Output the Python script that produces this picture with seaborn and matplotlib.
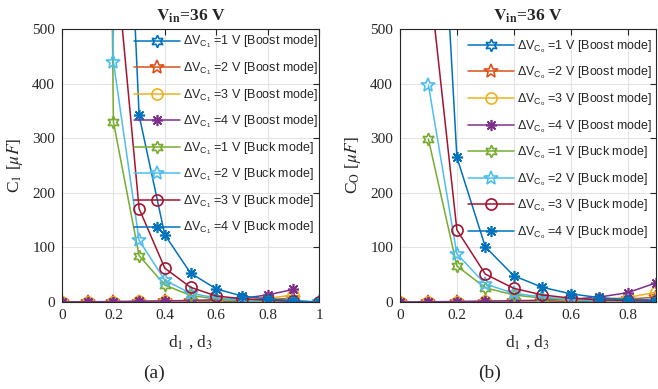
import numpy as np
import pandas as pd
import seaborn as sns
import matplotlib
matplotlib.use("Agg")
import matplotlib.pyplot as plt
from matplotlib.font_manager import FontProperties
from matplotlib.markers import MarkerStyle

# ---- data -------------------------------------------------------------
nan = np.nan
duty_a = [0.0, 0.1, 0.2, 0.3, 0.4, 0.5, 0.6, 0.7, 0.8, 0.9, 1.0]
duty_b = [0.0, 0.1, 0.2, 0.3, 0.4, 0.5, 0.6, 0.7, 0.8, 0.9]

# C1 [uF] versus duty, Vin = 36 V
c1_boost_1 = [0, 0.1, 0.2, 0.4, 0.6, 0.9, 1.3, 1.8, 2.5, 3.5, nan]
c1_boost_2 = [0, 0.2, 0.4, 0.7, 1.1, 1.6, 2.3, 3.2, 4.5, 7.0, nan]
c1_boost_3 = [0, 0.3, 0.6, 1.0, 1.6, 2.3, 3.2, 4.5, 6.5, 13.0, nan]
c1_boost_4 = [0, 0.4, 0.8, 1.3, 2.0, 2.9, 4.0, 6.5, 13.0, 23.0, nan]
c1_buck_1 = [nan, 4600, 330, 85, 31, 12, 5.5, 3.0, 1.8, 0.8, 0]
c1_buck_2 = [nan, 6000, 440, 113, 40, 16, 7.5, 4.0, 2.3, 1.0, 0]
c1_buck_3 = [nan, 2800, 677, 171, 62, 27, 11, 6.0, 3.2, 1.4, 0]
c1_buck_4 = [nan, 5500, 1395, 342, 123, 53, 24, 11, 5.5, 2.2, 0]

# Co [uF] versus duty, Vin = 36 V
co_boost_1 = [0, 0.1, 0.3, 0.5, 0.8, 1.1, 1.5, 2.0, 2.8, 4.5]
co_boost_2 = [0, 0.2, 0.5, 0.8, 1.2, 1.7, 2.4, 3.4, 5.0, 9.0]
co_boost_3 = [0, 0.3, 0.7, 1.1, 1.7, 2.5, 3.5, 5.0, 8.0, 18.0]
co_boost_4 = [0, 0.4, 0.9, 1.5, 2.3, 3.3, 5.0, 9.0, 17.0, 35.0]
co_buck_1 = [nan, 298, 66, 26, 13, 7, 4, 2.5, 1.5, 0.8]
co_buck_2 = [nan, 397, 88, 33, 16, 9, 5, 3.0, 1.8, 1.0]
co_buck_3 = [nan, 609, 132, 51, 25, 13, 7, 4.0, 2.5, 1.5]
co_buck_4 = [nan, 1205, 265, 101, 48, 27, 15, 8.0, 4.5, 2.5]

delta_v = [1, 2, 3, 4]
modes = ["Boost mode", "Buck mode"]
x_ticks = [0, 0.2, 0.4, 0.6, 0.8, 1.0]
y_ticks = [0, 100, 200, 300, 400, 500]

# ---- styling ----------------------------------------------------------
sns.set_theme(style="white")
plt.rcParams["font.family"] = ["Liberation Serif", "DejaVu Serif"]
plt.rcParams["mathtext.fontset"] = "custom"
plt.rcParams["mathtext.rm"] = "Liberation Sans"
plt.rcParams["mathtext.it"] = "Liberation Sans:italic"
plt.rcParams["mathtext.bf"] = "Liberation Sans:bold"

colors = ["#0072BD", "#D95319", "#EDB120", "#7E2F8E",
          "#77AC30", "#4DBEEE", "#A2142F", "#0072BD"]
hexagram = MarkerStyle((6, 1, 0))
asterisk = MarkerStyle((8, 2, 0))
markers = [hexagram, "*", "o", asterisk] * 2
msizes = [9, 10, 8, 8] * 2

fig = plt.figure(figsize=(6.58, 3.89), dpi=100)
ax_a = fig.add_axes([62 / 658, 1 - 302 / 389, 257 / 658, 273 / 389])
ax_b = fig.add_axes([400 / 658, 1 - 302 / 389, 256 / 658, 273 / 389])

panels = [
    (ax_a, duty_a,
     [c1_boost_1, c1_boost_2, c1_boost_3, c1_boost_4,
      c1_buck_1, c1_buck_2, c1_buck_3, c1_buck_4],
     "1", r"C$_1$ [$\mu F$]", (0, 1.0), x_ticks, (0.28, 0.982), 153.5),
    (ax_b, duty_b,
     [co_boost_1, co_boost_2, co_boost_3, co_boost_4,
      co_buck_1, co_buck_2, co_buck_3, co_buck_4],
     "o", r"C$_\mathrm{O}$ [$\mu F$]", (0, 0.9), x_ticks[:-1], (0.266, 0.966), 490),
]

legend_font = FontProperties(family="Liberation Sans", size=9,
                             math_fontfamily="custom")

for ax, duty, series, sub, ylabel, xlim, xt, anchor, cap_x in panels:
    handles = []
    for i, vals in enumerate(series):
        dv = delta_v[i % 4]
        mode = modes[i // 4]
        label = "\u0394V$_{\\mathrm{C}_\\mathrm{%s}}$ =%d V [%s]" % (sub, dv, mode)
        df = pd.DataFrame({"d": duty, "c": vals})
        sns.lineplot(data=df, x="d", y="c", ax=ax, estimator=None, sort=False,
                     color=colors[i], linewidth=1.1, marker=markers[i],
                     markersize=msizes[i], markerfacecolor="none",
                     markeredgecolor=colors[i], markeredgewidth=1.2,
                     label=label, legend=False)
        handles.append(ax.get_lines()[-1])

    ax.set_xlim(*xlim)
    ax.set_ylim(0, 500)
    ax.set_xticks(xt)
    ax.set_xticklabels([f"{t:g}" for t in xt])
    ax.set_yticks(y_ticks)
    ax.grid(True, color="#e3e3e3", linewidth=0.8)
    ax.set_axisbelow(True)
    for s in ax.spines.values():
        s.set_color("#262626")
        s.set_linewidth(0.8)
    ax.tick_params(direction="in", length=4, width=0.8, color="#262626",
                   top=True, right=True, labelsize=11, pad=5,
                   labelcolor="#262626")
    for lab in ax.get_xticklabels() + ax.get_yticklabels():
        lab.set_family("Liberation Serif")

    ax.set_title(r"$\mathbf{V_{in}}$=36 V", fontsize=12.5, fontweight="bold",
                 family="Liberation Serif", math_fontfamily="stix", pad=6)
    ax.set_ylabel(ylabel, fontsize=12.5, family="Liberation Serif",
                  math_fontfamily="stix", labelpad=5)
    ax.set_xlabel(r"d$_1$ , d$_3$", fontsize=12.5, family="Liberation Serif",
                  math_fontfamily="stix", labelpad=8)

    ax.legend(handles=handles, loc="upper left", bbox_to_anchor=anchor,
              frameon=False, prop=legend_font, handlelength=3.7,
              handletextpad=0.25, labelspacing=0.8, borderpad=0,
              borderaxespad=0)

    fig.text(cap_x / 658, 1 - 373 / 389, "(a)" if ax is ax_a else "(b)",
             ha="center", va="center", fontsize=14, family="Liberation Serif")

fig.savefig("out.png", dpi=100)
